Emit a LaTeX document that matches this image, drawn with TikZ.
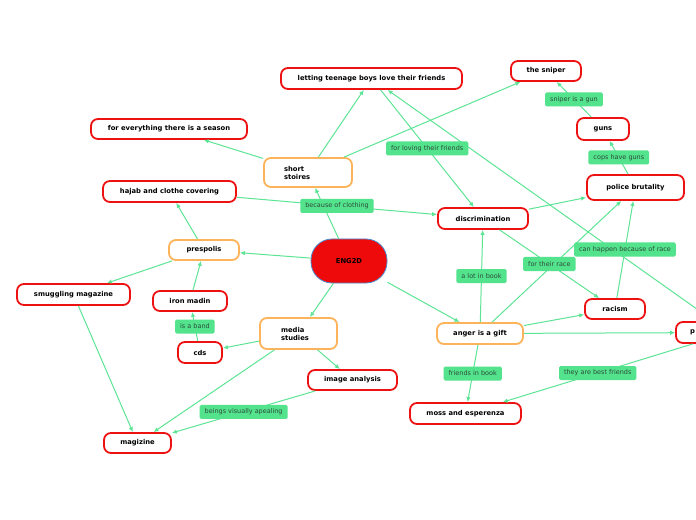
\documentclass[tikz,border=0pt]{standalone}
\usepackage{fontspec}
\setmainfont{DejaVu Sans}
\usetikzlibrary{arrows.meta}
\definecolor{edgegreen}{HTML}{5DE494}
\definecolor{lblgreen}{HTML}{52E38C}
\definecolor{nodered}{HTML}{EE1111}
\definecolor{nodeorange}{HTML}{FDB35A}
\definecolor{lbltext}{HTML}{2E4A3A}
\definecolor{engred}{HTML}{EE0A0A}
\definecolor{engblue}{HTML}{4A8FD4}
\tikzset{
  topic/.style={draw=nodered, line width=1.8bp, rounded corners=7bp, fill=white,
    font=\bfseries\fontsize{6.8}{8}\selectfont, text=black, inner sep=0pt, align=center},
  sub/.style={topic, draw=nodeorange},
  sz/.style 2 args={minimum width=#1bp, minimum height=#2bp},
  lbl/.style={fill=lblgreen, rounded corners=1.5bp, text=lbltext,
    font=\fontsize{6.5}{8}\selectfont, inner xsep=5bp, inner ysep=0pt, minimum height=14bp},
  conn/.style={draw=edgegreen, line width=1bp, -{Latex[length=5bp,width=4.5bp]}}
}
\begin{document}
\begin{tikzpicture}[x=1bp,y=-1bp]
\useasboundingbox (0,0) rectangle (696,520);
\fill[white] (0,0) rectangle (696,520);
\clip (0,0) rectangle (696,520);

% nodes
\node[draw=engblue, fill=engred, line width=0.8bp, rounded corners=21bp, sz={76}{44},
  font=\bfseries\fontsize{6.8}{8}\selectfont, inner sep=0pt] (eng) at (349,261) {ENG2D};
\node[sub, sz={88}{29}, text width=48bp, align=left] (short) at (308,172.5) {short\\stoires};
\node[sub, sz={77}{31}, text width=35bp, align=left] (media) at (298.5,333.5) {media\\studies};
\node[sub, sz={70}{20}] (pres) at (204,250) {prespolis};
\node[sub, sz={86}{21}] (anger) at (480,333.5) {anger is a gift};
\node[topic, sz={181}{21}] (letting) at (371.5,78.5) {letting teenage boys love their friends};
\node[topic, sz={156}{20}] (season) at (169,129) {for everything there is a season};
\node[topic, sz={133}{21}] (hajab) at (169.5,191.5) {hajab and clothe covering};
\node[topic, sz={90}{21}] (discr) at (483,218.5) {discrimination};
\node[topic, sz={70}{20}] (sniper) at (546,71) {the sniper};
\node[topic, sz={52}{22}] (guns) at (603,129) {guns};
\node[topic, sz={97}{25}] (police) at (635.5,187.5) {police brutality};
\node[topic, sz={60}{20}] (racism) at (615,309) {racism};
\node[topic, sz={108}{21}, text width=80bp, align=left] (pnode) at (730,332.5) {p};
\node[topic, sz={113}{21}] (smug) at (73.5,294.5) {smuggling magazine};
\node[topic, sz={74}{20}] (iron) at (190,301) {iron madin};
\node[topic, sz={44}{21}] (cds) at (200,352.5) {cds};
\node[topic, sz={89}{20}] (image) at (352.5,380) {image analysis};
\node[topic, sz={67}{20}] (mag) at (137.5,443) {magizine};
\node[topic, sz={111}{21}] (moss) at (465.5,413.5) {moss and esperenza};

% connectors
\draw[conn] (eng) -- (short);
\draw[conn] (short) -- (letting);
\draw[conn] (short) -- (season);
\draw[conn] (short) -- (sniper);
\draw[conn] (hajab) -- coordinate[midway] (m1) (discr);
\draw[conn] (pres) -- (hajab);
\draw[conn] (eng) -- (pres);
\draw[conn] (pres) -- (smug);
\draw[conn] (iron) -- (pres);
\draw[conn] (cds) -- coordinate[midway] (m2) (iron);
\draw[conn] (media) -- (cds);
\draw[conn] (eng) -- (media);
\draw[conn] (media) -- (image);
\draw[conn] (media) -- (mag);
\draw[conn] (smug) -- (mag);
\draw[conn] (image) -- coordinate[midway] (m3) (mag);
\draw[conn] (eng) -- (anger);
\draw[conn] (anger) -- coordinate[midway] (m4) (discr);
\draw[conn] (anger) -- (police);
\draw[conn] (anger) -- (racism);
\draw[conn] (anger) -- (pnode);
\draw[conn] (anger) -- coordinate[midway] (m5) (moss);
\draw[conn] (pnode) -- coordinate[midway] (m6) (moss);
\draw[conn] (pnode) -- (letting);
\draw[conn] (letting) -- coordinate[midway] (m7) (discr);
\draw[conn] (discr) -- (police);
\draw[conn] (discr) -- coordinate[midway] (m8) (racism);
\draw[conn] (racism) -- coordinate[midway] (m9) (police);
\draw[conn] (police) -- coordinate[midway] (m10) (guns);
\draw[conn] (guns) -- coordinate[midway] (m11) (sniper);

% labels
\node[lbl] (l1) at (m1) {because of clothing};
\node[lbl] (l2) at (m2) {is a band};
\node[lbl] (l3) at (m3) {beings visually apealing};
\node[lbl] (l4) at (m4) {a lot in book};
\node[lbl] (l5) at (m5) {friends in book};
\node[lbl] (l6) at (m6) {they are best friends};
\node[lbl] (l7) at (m7) {for loving their friends};
\node[lbl] (l8) at (m8) {for their race};
\node[lbl] (l9) at (m9) {can happen because of race};
\node[lbl] (l10) at (m10) {cops have guns};
\node[lbl] (l11) at (m11) {sniper is a gun};
\end{tikzpicture}
\end{document}
